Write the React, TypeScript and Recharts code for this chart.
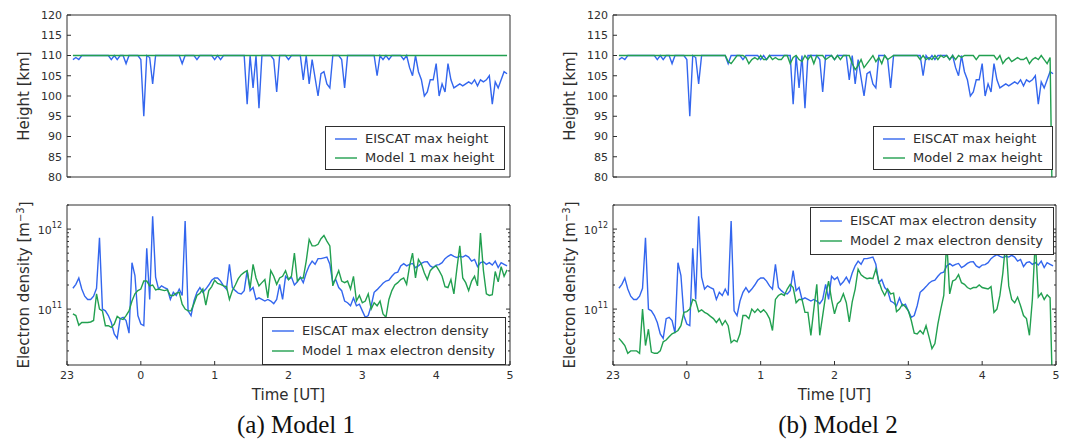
import React from "react";
import { Legend, Line, LineChart, XAxis, YAxis } from "recharts";

// time in hours after 00 UT (negative = before midnight, -1 is 23 UT)
const times = [
  -0.92, -0.88, -0.84, -0.8, -0.76, -0.72, -0.68, -0.64, -0.6, -0.56, -0.52, -0.48, -0.44, -0.4, -0.36, -0.32, -0.28, -0.24, -0.2, -0.16, -0.12, -0.08, -0.04,
  0, 0.04, 0.08, 0.12, 0.16, 0.2, 0.24, 0.28, 0.32, 0.36, 0.4, 0.44, 0.48, 0.52, 0.56, 0.6, 0.64, 0.68, 0.72, 0.76, 0.8, 0.84, 0.88, 0.92, 0.96,
  1, 1.04, 1.08, 1.12, 1.16, 1.2, 1.24, 1.28, 1.32, 1.36, 1.4, 1.44, 1.48, 1.52, 1.56, 1.6, 1.64, 1.68, 1.72, 1.76, 1.8, 1.84, 1.88, 1.92, 1.96,
  2, 2.04, 2.08, 2.12, 2.16, 2.2, 2.24, 2.28, 2.32, 2.36, 2.4, 2.44, 2.48, 2.52, 2.56, 2.6, 2.64, 2.68, 2.72, 2.76, 2.8, 2.84, 2.88, 2.92, 2.96,
  3, 3.04, 3.08, 3.12, 3.16, 3.2, 3.24, 3.28, 3.32, 3.36, 3.4, 3.44, 3.48, 3.52, 3.56, 3.6, 3.64, 3.68, 3.72, 3.76, 3.8, 3.84, 3.88, 3.92, 3.96,
  4, 4.04, 4.08, 4.12, 4.16, 4.2, 4.24, 4.28, 4.32, 4.36, 4.4, 4.44, 4.48, 4.52, 4.56, 4.6, 4.64, 4.68, 4.72, 4.76, 4.8, 4.84, 4.88, 4.92, 4.96,
];

// max height [km]
const eiscatHeight = [
  109, 109.5, 109, 110, 110, 110, 110, 110, 110, 110, 110, 110, 110, 109, 110, 109, 110, 110, 108, 110, 110, 110, 110,
  109, 95, 110, 109.5, 103, 110, 110, 110, 110, 110, 110, 110, 110, 110, 108, 110, 110, 110, 110, 109, 110, 110, 110, 110, 110,
  109, 110, 109, 110, 110, 110, 110, 110, 110, 110, 110, 98, 110, 102, 110, 97, 110, 110, 110, 110, 109, 101, 110, 110, 110,
  109, 110, 110, 110, 110, 104, 110, 103, 109, 104.5, 100, 105.5, 106, 103, 102, 110, 110, 110, 109, 102, 110, 110, 110, 110, 110,
  110, 110, 110, 110, 110, 105, 110, 109, 110, 109, 110, 110, 110, 110, 109, 110, 107, 105, 110, 106, 104, 100, 101, 104, 104,
  108, 100, 103, 101, 108, 104, 102, 102.5, 103, 102.5, 103, 103.5, 103, 104, 102.5, 104, 103.5, 104, 105, 98, 103.5, 102, 104, 106, 105.5,
];

const model1Height = [
  110, 110, 110, 110, 110, 110, 110, 110, 110, 110, 110, 110, 110, 110, 110, 110, 110, 110, 110, 110, 110, 110, 110,
  110, 110, 110, 110, 110, 110, 110, 110, 110, 110, 110, 110, 110, 110, 110, 110, 110, 110, 110, 110, 110, 110, 110, 110, 110,
  110, 110, 110, 110, 110, 110, 110, 110, 110, 110, 110, 110, 110, 110, 110, 110, 110, 110, 110, 110, 110, 110, 110, 110, 110,
  110, 110, 110, 110, 110, 110, 110, 110, 110, 110, 110, 110, 110, 110, 110, 110, 110, 110, 110, 110, 110, 110, 110, 110, 110,
  110, 110, 110, 110, 110, 110, 110, 110, 110, 110, 110, 110, 110, 110, 110, 110, 110, 110, 110, 110, 110, 110, 110, 110, 110,
  110, 110, 110, 110, 110, 110, 110, 110, 110, 110, 110, 110, 110, 110, 110, 110, 110, 110, 110, 110, 110, 110, 110, 110, 110,
];

const model2Height = [
  110, 110, 110, 110, 110, 110, 110, 110, 110, 110, 110, 110, 110, 110, 110, 110, 110, 110, 110, 110, 110, 110, 110,
  110, 110, 110, 110, 110, 110, 110, 110, 110, 110, 110, 110, 110, 110, 108.5, 108, 109, 110, 110, 110, 109.5, 108, 109, 109.5, 109,
  110, 109, 109, 110, 109, 109.5, 109, 109, 110, 110, 108, 109.5, 110, 109, 108.5, 110, 109, 110, 108, 110, 110, 110, 109, 109.5, 110,
  109, 110, 109, 110, 110, 110, 108, 106.5, 107.5, 109, 107, 108, 109, 110, 108.5, 109.5, 108, 110, 109, 109.5, 110, 110, 110, 110, 110,
  110, 110, 110, 110, 109, 110, 109, 109.5, 109, 110, 109, 110, 109.5, 110, 109, 110, 109, 110, 109.5, 110, 110, 110, 110, 109, 110,
  110, 110, 110, 110, 110, 109, 110, 108, 109, 109.5, 108.5, 109, 109.5, 109, 109, 109.5, 108, 109, 109.5, 109, 110, 109, 108, 109.5, 60,
];

// max electron density [10^11 m^-3]
const eiscatDensity = [
  1.82, 2.04, 2.45, 1.78, 1.45, 1.32, 1.32, 1.45, 1.82, 7.76, 1.0, 0.95, 0.83, 0.68, 0.49, 0.43, 0.76, 0.79, 0.72, 0.5, 3.8, 2.63, 0.83,
  0.65, 0.62, 5.75, 1.32, 14.5, 2.51, 1.78, 1.95, 1.86, 1.78, 1.32, 1.62, 1.48, 1.78, 1.48, 12.6, 0.95, 0.83, 1.26, 1.62, 1.86, 1.62, 1.78, 2.0, 2.29,
  2.45, 2.45, 2.24, 1.95, 1.78, 3.63, 1.86, 1.7, 1.58, 1.55, 1.7, 3.02, 1.7, 1.86, 1.32, 1.38, 1.32, 1.26, 1.32, 1.26, 1.17, 1.32, 2.04, 1.32, 2.57,
  2.34, 2.51, 2.0, 2.19, 2.51, 2.14, 2.82, 3.47, 3.98, 3.63, 4.27, 4.27, 4.37, 4.47, 3.63, 2.14, 2.34, 1.86, 1.7, 1.26, 1.2, 1.1, 1.38, 1.1, 1.15,
  0.95, 0.79, 0.83, 1.1, 1.62, 1.75, 1.91, 2.1, 2.24, 2.3, 2.57, 2.82, 2.9, 3.47, 3.7, 3.47, 3.63, 3.72, 3.3, 3.47, 3.72, 3.89, 3.9, 3.47, 3.3,
  3.55, 3.6, 3.8, 4.27, 4.57, 4.8, 4.57, 4.4, 4.57, 4.47, 4.7, 4.47, 3.98, 4.17, 3.4, 3.8, 3.9, 3.63, 3.8, 3.55, 3.98, 3.31, 3.8, 3.63, 3.47,
];

const model1Density = [
  0.87, 0.83, 0.63, 0.68, 0.68, 0.68, 0.69, 0.72, 1.55, 1.0, 0.95, 0.62, 0.62, 0.59, 0.65, 0.81, 0.76, 0.74, 0.83, 0.95, 1.26, 1.55, 1.7,
  1.78, 2.24, 2.24, 1.95, 2.0, 1.74, 1.78, 1.74, 1.7, 1.74, 1.48, 1.48, 1.58, 1.62, 1.15, 1.0, 0.95, 0.95, 1.17, 1.48, 1.58, 1.78, 1.12, 1.7, 1.91,
  2.29, 2.09, 2.04, 1.95, 1.91, 1.32, 1.7, 2.0, 2.4, 2.69, 2.88, 3.02, 1.82, 3.63, 2.45, 1.95, 2.14, 2.34, 1.38, 3.02, 2.57, 2.04, 2.45, 2.57, 3.02,
  2.34, 2.57, 5.01, 2.24, 2.45, 2.45, 3.98, 7.41, 6.17, 6.17, 6.46, 7.59, 8.32, 7.08, 6.17, 1.95, 2.45, 3.02, 2.24, 2.14, 2.24, 1.78, 2.57, 1.26, 1.48,
  1.2, 1.26, 1.55, 1.0, 1.2, 1.1, 1.26, 0.87, 0.79, 1.32, 1.7, 2.0, 2.14, 2.34, 2.45, 2.04, 3.47, 5.01, 2.45, 4.17, 3.63, 2.82, 2.34, 3.02, 3.31,
  3.47, 3.02, 2.57, 1.91, 1.86, 2.34, 1.55, 3.16, 6.17, 2.45, 2.14, 1.7, 2.24, 2.57, 1.95, 8.91, 3.02, 1.55, 1.48, 1.51, 2.95, 2.19, 3.39, 2.57, 3.09,
];

const model2Density = [
  0.43, 0.39, 0.35, 0.28, 0.3, 0.3, 0.3, 0.28, 1.0, 0.35, 0.56, 0.29, 0.28, 0.28, 0.3, 0.39, 0.41, 0.45, 0.49, 0.51, 0.54, 0.62, 0.91,
  0.93, 1.0, 1.32, 1.26, 0.93, 0.98, 0.91, 0.87, 0.81, 0.76, 0.68, 0.76, 0.63, 0.72, 0.62, 0.38, 0.41, 0.39, 0.49, 0.83, 0.83, 0.76, 1.0, 0.91, 1.0,
  0.91, 0.98, 0.89, 0.76, 0.54, 1.32, 1.48, 1.55, 1.48, 1.78, 2.04, 1.86, 1.2, 1.32, 1.32, 0.91, 0.91, 0.47, 1.0, 2.04, 0.47, 0.83, 1.48, 2.24, 1.32,
  0.87, 1.17, 1.26, 1.55, 1.2, 0.69, 1.23, 1.78, 3.16, 2.69, 2.51, 2.4, 2.45, 2.4, 3.16, 2.24, 1.74, 1.48, 1.78, 1.55, 1.58, 0.93, 1.0, 1.15, 1.07,
  0.95, 0.72, 0.5, 0.49, 0.54, 0.49, 0.62, 0.45, 0.32, 0.37, 0.65, 1.0, 1.48, 7.08, 1.55, 2.24, 2.34, 2.69, 2.14, 2.04, 1.86, 1.78, 1.86, 1.86, 2.0,
  1.86, 1.82, 1.78, 1.91, 0.91, 1.0, 1.48, 2.82, 7.08, 1.95, 1.32, 1.2, 1.41, 1.1, 0.83, 0.76, 0.47, 1.32, 7.41, 1.41, 1.58, 1.32, 1.51, 1.38, 0.05,
];

const timeTicks = [-1, 0, 1, 2, 3, 4, 5];
const timeTickLabels = ["23", "0", "1", "2", "3", "4", "5"];
const heightTicks = [80, 85, 90, 95, 100, 105, 110, 115, 120];
const densityMajorTicks = [1e11, 1e12];
const densityTicks = [
  2e10, 3e10, 4e10, 5e10, 6e10, 7e10, 8e10, 9e10, 1e11,
  2e11, 3e11, 4e11, 5e11, 6e11, 7e11, 8e11, 9e11, 1e12, 2e12,
];

const BLUE = "#3366ee";
const GREEN = "#22a050";
const INK = "#2e2e2e";
const FONT = "'DejaVu Sans', sans-serif";
const W = 545;
const LINE_W = 1.4;

const heightRows = (model: number[]) =>
  times.map((t, i) => ({ t, eiscat: eiscatHeight[i], model: model[i] }));
const densityRows = (model: number[]) =>
  times.map((t, i) => ({ t, eiscat: eiscatDensity[i] * 1e11, model: model[i] * 1e11 }));

function LegendBox({ payload, rowHeight, padY }: any) {
  return (
    <div
      style={{
        border: `1px solid ${INK}`,
        background: "#fff",
        padding: `${padY}px 10px ${padY}px 9px`,
        fontFamily: FONT,
        fontSize: 13,
        color: INK,
        lineHeight: `${rowHeight}px`,
        whiteSpace: "nowrap",
      }}
    >
      {(payload || []).map((entry: any) => (
        <div key={entry.value} style={{ display: "flex", alignItems: "center" }}>
          <svg width={22} height={8} style={{ flex: "none" }}>
            <line x1={0} y1={4} x2={22} y2={4} stroke={entry.color} strokeWidth={LINE_W} />
          </svg>
          <span style={{ marginLeft: 8 }}>{entry.value}</span>
        </div>
      ))}
    </div>
  );
}

function YTitle({ viewBox, children }: any) {
  const vb = viewBox || { y: 0, height: 0 };
  const cy = vb.y + vb.height / 2;
  return (
    <text
      x={24}
      y={cy}
      transform={`rotate(-90, 24, ${cy})`}
      textAnchor="middle"
      dominantBaseline="central"
      fontSize={15}
      fill={INK}
      fontFamily={FONT}
    >
      {children}
    </text>
  );
}

function LogTick({ x, y, payload, side }: any) {
  const v = payload.value;
  const major = densityMajorTicks.includes(v);
  const len = major ? 4 : 2;
  const dir = side === "left" ? 1 : -1;
  return (
    <g>
      <line x1={x} y1={y} x2={x + dir * len} y2={y} stroke={INK} strokeWidth={1} />
      {side === "left" && major ? (
        <text x={x - 5} y={y} textAnchor="end" fontSize={11} fill={INK} fontFamily={FONT}>
          <tspan dy="0.45em">10</tspan>
          <tspan dy="-0.7em" fontSize={8}>
            {Math.round(Math.log10(v))}
          </tspan>
        </text>
      ) : null}
    </g>
  );
}

function HeightPanel({ model, modelName, legendPos }: any) {
  return (
    <LineChart
      width={W}
      height={185}
      data={heightRows(model)}
      margin={{ top: 14, right: 34, bottom: 7, left: 17 }}
    >
      <XAxis
        dataKey="t"
        type="number"
        domain={[-1, 5]}
        ticks={timeTicks}
        allowDataOverflow
        height={1}
        tick={false}
        tickSize={-4}
        stroke={INK}
      />
      <XAxis
        xAxisId="top"
        orientation="top"
        dataKey="t"
        type="number"
        domain={[-1, 5]}
        ticks={timeTicks}
        allowDataOverflow
        height={1}
        tick={false}
        tickSize={-4}
        stroke={INK}
      />
      <YAxis
        type="number"
        domain={[80, 120]}
        ticks={heightTicks}
        interval={0}
        allowDataOverflow
        width={50}
        tickSize={-4}
        tickMargin={9}
        stroke={INK}
        tick={{ fontSize: 11, fill: INK, fontFamily: FONT }}
        label={(p: any) => <YTitle viewBox={p.viewBox}>Height [km]</YTitle>}
      />
      <YAxis
        yAxisId="right"
        orientation="right"
        type="number"
        domain={[80, 120]}
        ticks={heightTicks}
        interval={0}
        allowDataOverflow
        width={1}
        tick={false}
        tickSize={-4}
        stroke={INK}
      />
      <Legend
        layout="vertical"
        align="center"
        verticalAlign="middle"
        wrapperStyle={{ left: legendPos.left, top: legendPos.top, width: "auto" }}
        content={(p: any) => <LegendBox payload={p.payload} rowHeight={19} padY={2} />}
      />
      <Line
        type="linear"
        dataKey="eiscat"
        name="EISCAT max height"
        stroke={BLUE}
        strokeWidth={LINE_W}
        dot={false}
        isAnimationActive={false}
      />
      <Line
        type="linear"
        dataKey="model"
        name={modelName}
        stroke={GREEN}
        strokeWidth={LINE_W}
        dot={false}
        isAnimationActive={false}
      />
    </LineChart>
  );
}

function DensityPanel({ model, modelName, legendPos }: any) {
  return (
    <LineChart
      width={W}
      height={247}
      data={densityRows(model)}
      margin={{ top: 9, right: 34, bottom: 37, left: 17 }}
    >
      <XAxis
        dataKey="t"
        type="number"
        domain={[-1, 5]}
        ticks={timeTicks}
        interval={0}
        allowDataOverflow
        height={40}
        tickSize={-4}
        tickMargin={10}
        stroke={INK}
        tick={{ fontSize: 11, fill: INK, fontFamily: FONT }}
        tickFormatter={(v: number) => timeTickLabels[timeTicks.indexOf(v)]}
        label={(p: any) => {
          const vb = p.viewBox || { x: 67, y: 170, width: 443 };
          return (
            <text
              x={vb.x + vb.width / 2}
              y={vb.y + 30}
              textAnchor="middle"
              dominantBaseline="central"
              fontSize={15}
              fill={INK}
              fontFamily={FONT}
            >
              Time [UT]
            </text>
          );
        }}
      />
      <XAxis
        xAxisId="top"
        orientation="top"
        dataKey="t"
        type="number"
        domain={[-1, 5]}
        ticks={timeTicks}
        allowDataOverflow
        height={1}
        tick={false}
        tickSize={-4}
        stroke={INK}
      />
      <YAxis
        type="number"
        scale="log"
        domain={[2e10, 2e12]}
        ticks={densityTicks}
        interval={0}
        allowDataOverflow
        width={50}
        tickSize={0}
        tickMargin={0}
        tickLine={false}
        stroke={INK}
        tick={(p: any) => <LogTick {...p} side="left" />}
        label={(p: any) => (
          <YTitle viewBox={p.viewBox}>
            Electron density [m
            <tspan dy="-0.45em" fontSize={10}>
              −3
            </tspan>
            <tspan dy="0.45em">]</tspan>
          </YTitle>
        )}
      />
      <YAxis
        yAxisId="right"
        orientation="right"
        type="number"
        scale="log"
        domain={[2e10, 2e12]}
        ticks={densityTicks}
        interval={0}
        allowDataOverflow
        width={1}
        tickSize={0}
        tickMargin={0}
        tickLine={false}
        stroke={INK}
        tick={(p: any) => <LogTick {...p} side="right" />}
      />
      <Legend
        layout="vertical"
        align="center"
        verticalAlign="middle"
        wrapperStyle={{ left: legendPos.left, top: legendPos.top, width: "auto" }}
        content={(p: any) => <LegendBox payload={p.payload} rowHeight={20} padY={3} />}
      />
      <Line
        type="linear"
        dataKey="eiscat"
        name="EISCAT max electron density"
        stroke={BLUE}
        strokeWidth={LINE_W}
        dot={false}
        isAnimationActive={false}
      />
      <Line
        type="linear"
        dataKey="model"
        name={modelName}
        stroke={GREEN}
        strokeWidth={LINE_W}
        dot={false}
        isAnimationActive={false}
      />
    </LineChart>
  );
}

const captionStyle: React.CSSProperties = {
  position: "absolute",
  top: 409,
  width: 300,
  textAlign: "center",
  fontFamily: "'Liberation Serif', 'DejaVu Serif', serif",
  fontSize: 25,
  color: "#111",
  lineHeight: "32px",
};

export default function App() {
  return (
    <div
      style={{
        position: "absolute",
        left: 0,
        top: 0,
        width: 1089,
        height: 442,
        background: "#fff",
        overflow: "hidden",
      }}
    >
      <div style={{ position: "absolute", left: 0, top: 0 }}>
        <HeightPanel model={model1Height} modelName="Model 1 max height" legendPos={{ left: 325, top: 126 }} />
      </div>
      <div style={{ position: "absolute", left: 0, top: 195 }}>
        <DensityPanel
          model={model1Density}
          modelName="Model 1 max electron density"
          legendPos={{ left: 262, top: 122 }}
        />
      </div>
      <div style={{ position: "absolute", left: 546, top: 0 }}>
        <HeightPanel model={model2Height} modelName="Model 2 max height" legendPos={{ left: 327, top: 126 }} />
      </div>
      <div style={{ position: "absolute", left: 546, top: 195 }}>
        <DensityPanel
          model={model2Density}
          modelName="Model 2 max electron density"
          legendPos={{ left: 264, top: 12 }}
        />
      </div>
      <div style={{ ...captionStyle, left: 296 - 150 }}>(a) Model 1</div>
      <div style={{ ...captionStyle, left: 838 - 150 }}>(b) Model 2</div>
    </div>
  );
}
